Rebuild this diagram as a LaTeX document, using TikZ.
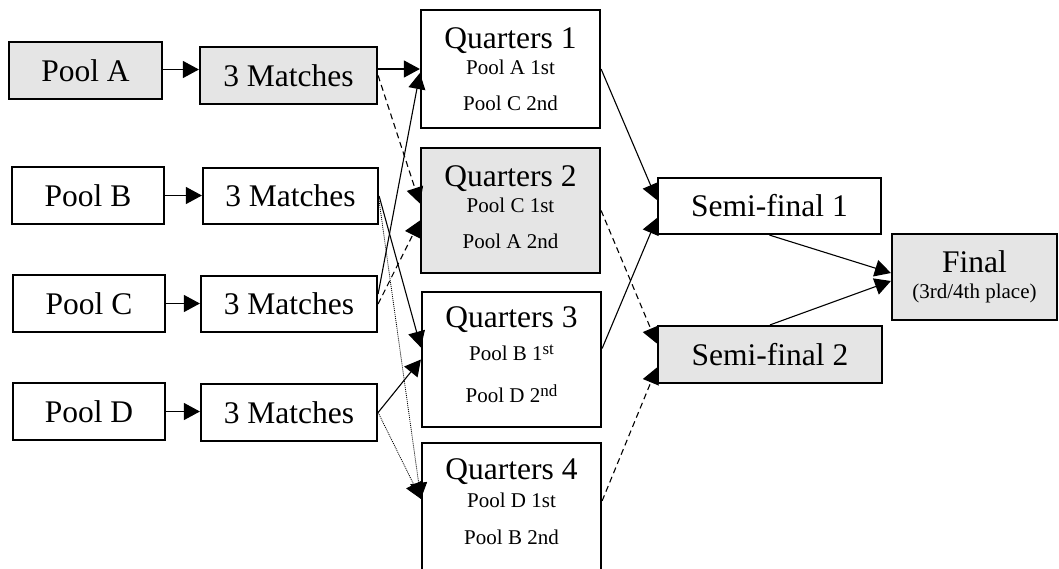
\documentclass[tikz,border=0pt]{standalone}
\usepackage{fontspec}
\setmainfont{Liberation Serif}
\usetikzlibrary{arrows.meta}
\newcommand{\supx}[1]{\raisebox{6pt}{\fontsize{17}{19}\selectfont #1}}
\begin{document}
\begin{tikzpicture}[x=1pt,y=-1pt,
  box/.style={draw=black, line width=2.2pt, inner sep=0pt, font=\fontsize{31.5}{36}\selectfont},
  grey/.style={fill=gray!20},
  sub/.style={inner sep=0pt, font=\fontsize{21}{24}\selectfont},
  big/.style={inner sep=0pt, font=\fontsize{31.5}{36}\selectfont},
  conn/.style={line width=1.1pt, -{Triangle[length=16pt,width=17pt]}},
  dsh/.style={conn, dash pattern=on 6pt off 4pt},
  dot/.style={conn, dash pattern=on 1pt off 1pt, line width=0.8pt}
]
\useasboundingbox (0,0) rectangle (1059,568);
% pools
\node[box,grey,minimum width=153pt,minimum height=57pt] (pa) at (85.5,70.5) {Pool A};
\node[box,minimum width=152pt,minimum height=57pt] (pb) at (88,195.5) {Pool B};
\node[box,minimum width=152pt,minimum height=57pt] (pc) at (89,303.5) {Pool C};
\node[box,minimum width=152pt,minimum height=57pt] (pd) at (89,411.5) {Pool D};
% matches
\node[box,grey,minimum width=177pt,minimum height=57pt] (ma) at (288.5,75.5) {3 Matches};
\node[box,minimum width=175pt,minimum height=56pt] (mb) at (290.5,196) {3 Matches};
\node[box,minimum width=176pt,minimum height=56pt] (mc) at (289,304) {3 Matches};
\node[box,minimum width=176pt,minimum height=57pt] (md) at (289,412.5) {3 Matches};
% quarters
\node[box,minimum width=179pt,minimum height=118pt] (q1) at (510.5,69) {};
\node[box,grey,minimum width=179pt,minimum height=125pt] (q2) at (510.5,210.5) {};
\node[box,minimum width=179pt,minimum height=135pt] (q3) at (511.5,359.5) {};
\node[box,minimum width=179pt,minimum height=150pt] (q4) at (511.5,518) {};
\node[big] (q1t) at ([yshift=-32pt]q1.north) {Quarters 1};
\node[sub] (q1a) at ([yshift=-58pt]q1.north) {Pool A 1st};
\node[sub] (q1b) at ([yshift=-94pt]q1.north) {Pool C 2nd};
\node[big] (q2t) at ([yshift=-32pt]q2.north) {Quarters 2};
\node[sub] (q2a) at ([yshift=-58pt]q2.north) {Pool C 1st};
\node[sub] (q2b) at ([yshift=-94pt]q2.north) {Pool A 2nd};
\node[big] (q3t) at ([yshift=-29pt]q3.north) {Quarters 3};
\node[sub,anchor=base] (q3a) at ([yshift=-70pt]q3.north) {Pool B 1\supx{st}};
\node[sub,anchor=base] (q3b) at ([yshift=-112pt]q3.north) {Pool D 2\supx{nd}};
\node[big] (q4t) at ([yshift=-30pt]q4.north) {Quarters 4};
\node[sub] (q4a) at ([yshift=-58pt]q4.north) {Pool D 1st};
\node[sub] (q4b) at ([yshift=-95pt]q4.north) {Pool B 2nd};
% semis and final
\node[box,minimum width=223pt,minimum height=56pt] (s1) at (769.5,206) {Semi-final 1};
\node[box,grey,minimum width=224pt,minimum height=57pt] (s2) at (770,354.5) {Semi-final 2};
\node[box,grey,minimum width=165pt,minimum height=86pt] (fin) at (974.5,277) {};
\node[big] (fint) at ([yshift=-29pt]fin.north) {Final};
\node[sub] (finb) at ([yshift=-61pt]fin.north) {(3rd/4th place)};
% pool -> matches
\draw[conn] ([yshift=1pt]pa.east) -- ([yshift=1pt]pa.east -| ma.west);
\draw[conn] (pb.east) -- (pb.east -| mb.west);
\draw[conn] (pc.east) -- (pc.east -| mc.west);
\draw[conn] (pd.east) -- (pd.east -| md.west);
% matches -> quarters
\draw[conn] (ma.east |- q1.west) -- (q1.west);
\draw[dsh] (ma.east) -- ([yshift=7pt]q2.west);
\draw[dsh] (mc.east) -- ([yshift=-10pt]q2.west);
\draw[conn] ([yshift=10pt]mc.east) -- ([yshift=-4pt]q1.west);
\draw[conn] (mb.east) -- ([yshift=12pt]q3.west);
\draw[conn] (md.east) -- (q3.west);
\coordinate (q4in) at ([yshift=-57pt]q4.north west);
\draw[dot] ([yshift=-5pt]mb.east) -- (q4in);
\draw[dot] (md.east) -- (q4in);
% quarters -> semis
\draw[conn] (q1.east) -- ([yshift=6pt]s1.west);
\draw[conn] ([yshift=11pt]q3.east) -- ([yshift=-12pt]s1.west);
\draw[dsh] (q2.east) -- ([yshift=11pt]s2.west);
\draw[dsh] ([yshift=-59pt]q4.north east) -- ([yshift=-13pt]s2.west);
% semis -> final
\draw[conn] (s1.south) -- ([yshift=4pt]fin.west);
\draw[conn] (s2.north) -- ([yshift=-4pt]fin.west);
\end{tikzpicture}
\end{document}
